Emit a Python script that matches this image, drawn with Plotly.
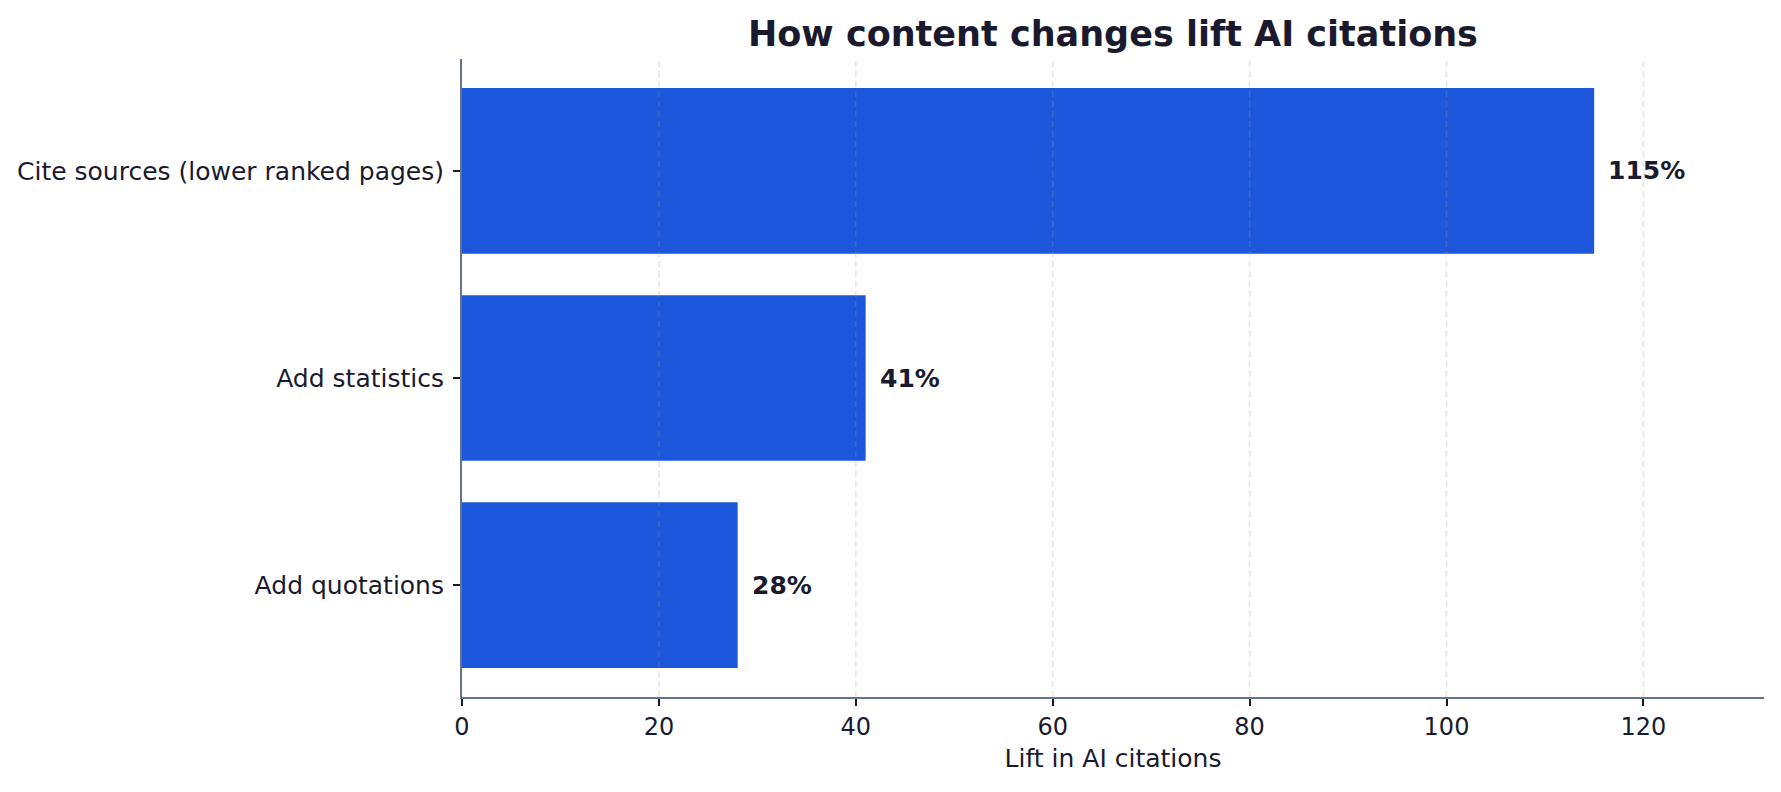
import plotly.graph_objects as go

categories = ["Cite sources (lower ranked pages)", "Add statistics", "Add quotations"]
values = [115, 41, 28]
value_labels = ["115%", "41%", "28%"]
x_ticks = [0, 20, 40, 60, 80, 100, 120]

BAR = "#1c56db"
TEXT = "#1a1a2e"
SPINE = "#64748b"
GRID = "rgba(150,150,150,0.25)"
FONT = "DejaVu Sans"

fig = go.Figure()
fig.add_trace(go.Bar(
    x=values, y=categories, orientation="h",
    marker=dict(color=BAR, line=dict(width=0)),
    width=0.8, hoverinfo="skip",
))

# dashed vertical grid drawn above the bars (as in the reference)
for t in x_ticks[1:]:
    fig.add_shape(type="line", xref="x", yref="paper", x0=t, x1=t, y0=0, y1=1,
                  line=dict(color=GRID, width=1.6, dash="6px,4px"), layer="above")

for v, c, lab in zip(values, categories, value_labels):
    fig.add_annotation(x=v, y=c, text=f"<b>{lab}</b>", showarrow=False,
                       xanchor="left", yanchor="middle", xshift=12,
                       font=dict(family=FONT, size=25, color=TEXT))

fig.update_layout(
    width=1781, height=792,
    margin=dict(l=462, r=17, t=59, b=95),
    paper_bgcolor="white", plot_bgcolor="white",
    showlegend=False,
    title=dict(text="<b>How content changes lift AI citations</b>",
               x=(462 + 1764) / 2 / 1781, xanchor="center",
               y=1 - 34 / 792, yanchor="middle",
               font=dict(family=FONT, size=35, color=TEXT)),
    font=dict(family=FONT, color=TEXT),
)

fig.update_xaxes(
    range=[0, 132.25], tickvals=x_ticks, ticktext=[str(t) for t in x_ticks],
    showgrid=False,
    showline=True, linecolor=SPINE, linewidth=2,
    ticks="outside", ticklen=7, tickwidth=2, tickcolor=TEXT,
    tickfont=dict(family=FONT, size=24, color=TEXT),
    title=dict(text="Lift in AI citations", font=dict(family=FONT, size=25, color=TEXT), standoff=10),
    zeroline=False, layer="above traces", fixedrange=True,
)
fig.update_yaxes(
    categoryorder="array", categoryarray=categories[::-1],
    range=[-0.54, 2.54],
    showgrid=False, showline=True, linecolor=SPINE, linewidth=2,
    ticks="outside", ticklen=7, tickwidth=2, tickcolor=TEXT,
    tickfont=dict(family=FONT, size=25, color=TEXT),
    ticklabelstandoff=4,
    zeroline=False, fixedrange=True,
)

fig.write_html("out.html")
